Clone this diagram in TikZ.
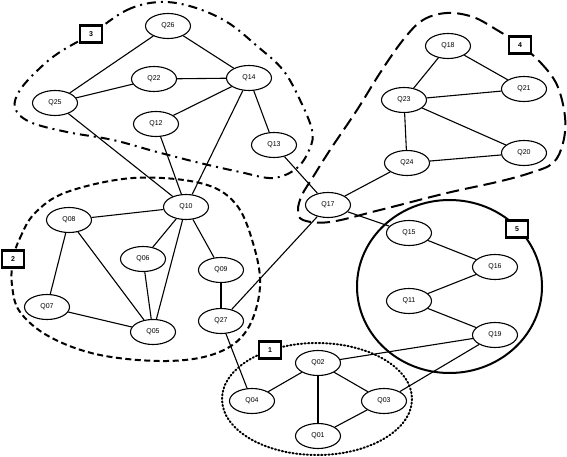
\documentclass[tikz,border=0pt]{standalone}
\usepackage{fontspec}
\setmainfont{Liberation Sans}
\usetikzlibrary{shapes.geometric}

\begin{document}
\begin{tikzpicture}[
    x=1pt,y=-1pt,
    state/.style={ellipse,draw,fill=white,line width=1.1pt,minimum width=45pt,minimum height=25pt,inner sep=0pt,font=\fontsize{7}{8}\selectfont},
    link/.style={line width=1.1pt},
    group/.style={line width=2pt},
    tag/.style={draw,fill=white,line width=2.6pt,minimum width=22pt,minimum height=17pt,inner sep=0pt,font=\fontsize{7}{8}\selectfont\bfseries}
]
\useasboundingbox (0,0) rectangle (567,457);

\draw[group,dash pattern=on 1.2pt off 2.4pt,line cap=round] (317,399) ellipse [x radius=95,y radius=56];
\draw[group,dash pattern=on 6pt off 3.5pt] plot[smooth cycle,tension=0.6] coordinates {
    (13,259) (20,238) (35,213) (67,192) (133,178) (200,183) (235,203) (253,243) (260,287)
    (247,330) (217,353) (167,361) (100,355) (50,337) (20,312) (12,285)};
\draw[group,dash pattern=on 9pt off 5pt on 2pt off 5pt] plot[smooth cycle,tension=0.6] coordinates {
    (91,34) (127,10) (160,2) (193,7) (227,22) (257,46) (283,70) (300,100) (312,130) (310,148)
    (297,168) (273,178) (240,172) (200,163) (157,152) (113,140) (67,132) (30,122) (15,108) (20,90) (40,68) (60,52)};
\draw[group,dash pattern=on 13pt off 6pt] plot[smooth cycle,tension=0.6] coordinates {
    (520,45) (540,62) (557,85) (565,117) (563,143) (553,163) (530,173) (497,182) (447,193)
    (380,210) (330,222) (303,220) (298,210) (302,195) (313,177) (330,150) (357,110) (380,73)
    (403,40) (423,20) (447,13) (473,17) (497,30)};
\draw[group] (449.5,286.5) ellipse [x radius=92.5,y radius=86.5];

\foreach \name/\x/\y in {Q26/168/26, Q22/154/79, Q14/249/78, Q25/55/103, Q12/156/124,
    Q13/274/145, Q10/186/207, Q08/69/220, Q06/143/259, Q09/221/270, Q07/47/307,
    Q05/153/332, Q27/221/321, Q18/448/46, Q21/524/89, Q23/404/100, Q20/524/153,
    Q24/407/163, Q17/328/205, Q15/409/233, Q16/495/267, Q11/409/301, Q19/495/335,
    Q02/318/363, Q04/252/401, Q03/384/401, Q01/318/436} {
    \node[state] (\name) at (\x,\y) {\name};
}

\foreach \a/\b in {Q26/Q25, Q26/Q14, Q22/Q25, Q22/Q14, Q14/Q12, Q14/Q10, Q14/Q13,
    Q25/Q10, Q12/Q10, Q13/Q17, Q10/Q08, Q10/Q06, Q10/Q05, Q10/Q09, Q08/Q07, Q08/Q05,
    Q06/Q05, Q07/Q05, Q09/Q27, Q27/Q17, Q27/Q04, Q17/Q24, Q17/Q15, Q18/Q23, Q18/Q21,
    Q23/Q21, Q23/Q20, Q23/Q24, Q24/Q20, Q15/Q16, Q16/Q11, Q11/Q19, Q19/Q02, Q19/Q03,
    Q02/Q04, Q02/Q01, Q02/Q03, Q03/Q01} {
    \draw[link] (\a) -- (\b);
}

\node[tag] (g1) at (270,350) {1};
\node[tag] (g2) at (13,259) {2};
\node[tag] (g3) at (91,34) {3};
\node[tag] (g4) at (520,45) {4};
\node[tag] (g5) at (517,229) {5};

\end{tikzpicture}
\end{document}
